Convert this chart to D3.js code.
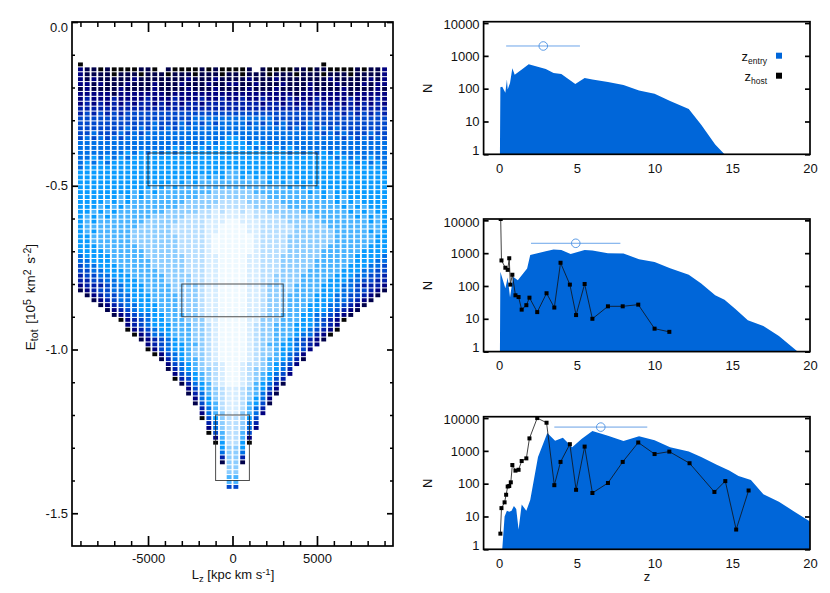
<!DOCTYPE html>
<html>
<head>
<meta charset="utf-8">
<script src="https://cdn.jsdelivr.net/npm/d3@7"></script>
<style>
html, body { margin: 0; padding: 0; background: #fff; }
svg { display: block; }
text { font-family: "Liberation Sans", Arial, sans-serif; font-size: 13px; fill: #111; }
</style>
</head>
<body>
<svg id="chart" width="830" height="593"></svg>
<script>
// --- heat map: one string per energy row, columns |Lz| bin 22 ... 0, mirrored about Lz = 0
var levelColors = ["#050505", "#00004a", "#000080", "#0020aa", "#0048cc", "#0070e6",
  "#0a9cff", "#4ab4ff", "#8ccdff", "#b8dfff", "#d6edff", "#eef9ff"];
var heatRows = [
  "00000000000000000000000",
  "21101000011011000010100",
  "21111011101110111011101",
  "21211111211111112111211",
  "22121112111211121112112",
  "12111121111211112111211",
  "22222122222221222222222",
  "23222322223222322232232",
  "23232323233232323323333",
  "33333333333333333333333",
  "34343434444444444444444",
  "44444444444444444555555",
  "44444444444544454545455",
  "44444445454545455555555",
  "44544454545555555555555",
  "45454545555555555555556",
  "55555555555555555556566",
  "55555555555555656565666",
  "55555556565656566666666",
  "55656565666666666666666",
  "56565666666666666666666",
  "56666666666666666666666",
  "66666666666666666666667",
  "66666666666666666676767",
  "66666666666666767677777",
  "66666666666767677777777",
  "66666666767677777777888",
  "66666676767777777788888",
  "66667676777777778888899",
  "66676767777777788888999",
  "66767677777778888899a9a",
  "67676777777888889999aaa",
  "6767777777888889999aaab",
  "6777777778888899999aabb",
  "6767777788888899999aabb",
  "6677777788888889999abbb",
  "6677777788888889999abbb",
  "6667777778888889999abbb",
  "6666777777888889999abbb",
  "5666677777888888999aabb",
  "5566677777788888999aabb",
  "4556667777788888999aabb",
  "4455666777778888999aabb",
  "3445566677777888899aabb",
  "3344556667777888899aabb",
  "2333455666777788889aabb",
  "1234455666777788889aabb",
  ".123445566677778889aabb",
  "..12345566677778889aabb",
  "...1234556667778889aabb",
  "....123456667778889aabb",
  ".....12345566777889aabb",
  "......0234566777888aabb",
  ".......2345666777889abb",
  ".......0234566777889abb",
  "........023556777889abb",
  ".........12345677889abb",
  "..........2345667789abb",
  "..........0245667889abb",
  "...........024567889abb",
  "............13567789abb",
  ".............24567899ab",
  ".............13567889ab",
  "..............2456789ab",
  "..............0346789ab",
  "...............135679ab",
  "................246789a",
  "................135789a",
  ".................25689a",
  ".................14679a",
  "..................3579a",
  "..................2578a",
  "..................04689",
  "...................3589",
  "...................2589",
  "...................0479",
  "....................279",
  "....................069",
  ".....................68",
  ".....................58",
  ".....................38",
  ".....................18",
  "......................8",
  "......................8",
  "......................7",
  "......................7",
  "......................4"
];
// first row of each column (index into heatRows), bins 22..0
var colTopLeft = [0,1,1,1,1,1,1,1,1,1,1,1,2,1,1,1,1,1,1,1,1,1,1];
var colTopRight = [1,1,1,1,1,1,1,1,1,0,1,1,1,1,1,1,1,1,1,2,1,1,1];
// last row of each column on the right side, bins 22..0
var colEndRight = [46,47,48,49,50,51,52,54,55,56,57,58,60,61,63,65,67,69,71,74,77,81,86];
var lzStep = 400, lzFirst = 200;
var eFirst = -0.1295, eStep = 0.015;

// selection boxes in (Lz, E)
var boxes = [[-5000, 5000, -0.4, -0.5], [-3000, 3000, -0.8, -0.9], [-1000, 1000, -1.2, -1.4]];

var lzMajor = [-5000, 0, 5000];
var lzMinor = [-9000, -8000, -7000, -6000, -4000, -3000, -2000, -1000, 1000, 2000, 3000, 4000, 6000, 7000, 8000, 9000];
var eMajor = [0, -0.5, -1, -1.5];
var eMinor = [-0.1, -0.2, -0.3, -0.4, -0.6, -0.7, -0.8, -0.9, -1.1, -1.2, -1.3, -1.4];

// --- redshift histograms
var nTicks = [1, 10, 100, 1000, 10000];
var zTicks = [0, 5, 10, 15, 20];

var entryZ1 = [0.05, 0.08, 0.2, 0.4, 0.5, 0.55, 0.7, 0.85, 1.0, 1.5, 1.9, 3, 3.5, 4, 4.9, 5.5, 6, 7, 8, 9, 10, 11, 12.2, 13, 13.9, 14.5];
var entryN1 = [1, 110, 115, 75, 190, 95, 150, 420, 265, 400, 560, 400, 300, 280, 140, 210, 190, 160, 130, 88, 70, 42, 24, 8, 2, 1];

var entryZ2 = [0.05, 0.08, 0.4, 0.55, 0.7, 0.9, 1.2, 1.8, 2, 3, 3.5, 4, 4.6, 5.5, 6, 7, 8, 9, 10, 11, 12.2, 13, 13.9, 14.5, 15.2, 16, 17, 18, 19.2];
var entryN2 = [1, 270, 85, 180, 45, 190, 150, 340, 880, 1150, 1300, 1250, 950, 1250, 1200, 1000, 980, 650, 540, 350, 220, 120, 52, 38, 20, 9, 6, 3, 1];
var hostZ2 = [0.1, 0.15, 0.4, 0.55, 0.65, 0.72, 0.85, 1.05, 1.25, 1.45, 1.75, 1.95, 2.45, 3.05, 3.55, 3.95, 4.55, 4.95, 5.5, 6, 7, 7.95, 8.95, 10, 10.95];
var hostN2 = [11000, 600, 360, 310, 700, 110, 220, 52, 46, 19, 26, 44, 16, 60, 22, 510, 110, 13, 115, 10, 24, 24, 27, 5, 4];

var entryZ3 = [0.2, 0.35, 0.5, 0.65, 0.8, 0.95, 1.1, 1.25, 1.45, 1.75, 2, 2.5, 3.1, 3.6, 4.1, 4.7, 5.3, 6, 7, 8, 9, 10, 11, 12.2, 13, 14, 14.8, 15.4, 16.2, 17, 18, 19, 20];
var entryN3 = [1, 10, 15, 14, 15, 21, 17, 4, 23, 15, 32, 650, 3500, 2050, 2500, 1300, 2300, 4000, 2900, 2000, 2800, 2100, 1300, 950, 650, 380, 250, 170, 130, 48, 28, 14, 7];
var hostZ3 = [0.08, 0.15, 0.35, 0.45, 0.55, 0.65, 0.75, 0.85, 1.05, 1.25, 1.45, 1.75, 1.95, 2.45, 3.05, 3.55, 3.95, 4.55, 4.95, 5.5, 6, 7, 7.95, 8.95, 10, 10.95, 12.25, 13.85, 14.55, 15.25, 16.05];
var hostN3 = [3, 18, 27, 46, 82, 85, 110, 370, 250, 265, 490, 590, 2400, 10000, 7200, 90, 460, 1600, 65, 1350, 52, 105, 460, 1800, 800, 950, 420, 56, 120, 4, 62];

// mean and spread of z_entry for each panel: [low, mean, high, N]
var spread1 = [0.45, 2.84, 5.2, 2000];
var spread2 = [2.05, 4.93, 7.8, 2000];
var spread3 = [3.55, 6.54, 9.53, 5300];

var svg = d3.select("#chart");

// --- left panel
var x = d3.scaleLinear().domain([-9500, 9500]).range([72, 393]);
var y = d3.scaleLinear().domain([0, -1.6]).range([22, 546]);
var color = d3.scaleLinear().domain(d3.range(levelColors.length)).range(levelColors);

var cells = [];
heatRows.forEach(function (row, r) {
  for (var c = 0; c < row.length; c++) {
    if (row[c] == ".") continue;
    var bin = 22 - c;
    var level = parseInt(row[c], 16);
    if (r >= colTopLeft[c]) cells.push({ lz: -(lzFirst + lzStep * bin), e: eFirst - eStep * r, level: level });
    if (r >= colTopRight[c] && r <= colEndRight[c]) cells.push({ lz: lzFirst + lzStep * bin, e: eFirst - eStep * r, level: level });
  }
});

var cellW = x(lzStep) - x(0) - 1.9;
var cellH = y(-eStep) - y(0) - 1;
svg.append("g").selectAll("rect").data(cells).join("rect")
  .attr("x", function (d) { return x(d.lz) - cellW / 2; })
  .attr("y", function (d) { return y(d.e) - cellH / 2; })
  .attr("width", cellW)
  .attr("height", cellH)
  .attr("fill", function (d) { return color(d.level); });

svg.append("g").selectAll("rect").data(boxes).join("rect")
  .attr("x", function (d) { return x(d[0]); })
  .attr("y", function (d) { return y(d[2]); })
  .attr("width", function (d) { return x(d[1]) - x(d[0]); })
  .attr("height", function (d) { return y(d[3]) - y(d[2]); })
  .attr("fill", "none")
  .attr("stroke", "#222")
  .attr("stroke-opacity", 0.8)
  .attr("stroke-width", 1);

function axisAt(axis, dx, dy, width, noText) {
  var g = svg.append("g").attr("transform", "translate(" + dx + "," + dy + ")").call(axis);
  g.selectAll(".domain").remove();
  g.selectAll("line").attr("stroke", "#000").attr("stroke-width", width);
  g.selectAll("text").style("font-size", "13px").attr("fill", "#111");
  if (noText) g.selectAll("text").remove();
  return g;
}

function frame(x0, x1, y0, y1, width) {
  svg.append("rect").attr("x", x0).attr("y", y0)
    .attr("width", x1 - x0).attr("height", y1 - y0)
    .attr("fill", "none").attr("stroke", "#000").attr("stroke-width", width);
}

var fmtE = function (d) { return d.toFixed(1); };

// labels only
axisAt(d3.axisBottom(x).tickValues(lzMajor).tickSize(0).tickPadding(8).tickFormat(String), 0, 546, 1);
var eLabels = axisAt(d3.axisLeft(y).tickValues(eMajor).tickSize(0).tickPadding(4).tickFormat(fmtE), 72, 0, 1);
eLabels.selectAll("text").attr("dy", function (d) { return d == 0 ? "0.75em" : "0.32em"; });
// inward ticks: each axis is placed so its ticks point into the plot
axisAt(d3.axisTop(x).tickValues(lzMajor).tickSize(10), 0, 546, 1.7, true);
axisAt(d3.axisTop(x).tickValues(lzMinor).tickSize(5), 0, 546, 1.5, true);
axisAt(d3.axisBottom(x).tickValues(lzMajor).tickSize(10), 0, 22, 1.7, true);
axisAt(d3.axisBottom(x).tickValues(lzMinor).tickSize(5), 0, 22, 1.5, true);
axisAt(d3.axisRight(y).tickValues(eMajor).tickSize(6), 72, 0, 1.7, true);
axisAt(d3.axisRight(y).tickValues(eMinor).tickSize(3), 72, 0, 1.5, true);
axisAt(d3.axisLeft(y).tickValues(eMajor).tickSize(6), 393, 0, 1.7, true);
axisAt(d3.axisLeft(y).tickValues(eMinor).tickSize(3), 393, 0, 1.5, true);
frame(72, 393, 22, 546, 1.7);

var lzLabel = svg.append("text").attr("x", 233).attr("y", 579).attr("text-anchor", "middle");
lzLabel.append("tspan").text("L");
lzLabel.append("tspan").attr("dy", 3).style("font-size", "9.5px").text("z");
lzLabel.append("tspan").attr("dy", -3).text(" [kpc km s");
lzLabel.append("tspan").attr("dy", -4).style("font-size", "9.5px").text("-1");
lzLabel.append("tspan").attr("dy", 4).text("]");

var eLabel = svg.append("text").attr("transform", "translate(35,297) rotate(-90)")
  .attr("text-anchor", "middle").style("word-spacing", "2px");
eLabel.append("tspan").style("font-size", "13.5px").text("E");
eLabel.append("tspan").attr("dy", 3).style("font-size", "10.5px").text("tot");
eLabel.append("tspan").attr("dy", -3).style("font-size", "13.5px").text(" [10");
eLabel.append("tspan").attr("dy", -4).style("font-size", "10.5px").text("5");
eLabel.append("tspan").attr("dy", 4).style("font-size", "13.5px").text(" km");
eLabel.append("tspan").attr("dy", -4).style("font-size", "10.5px").text("2");
eLabel.append("tspan").attr("dy", 4).style("font-size", "13.5px").text(" s");
eLabel.append("tspan").attr("dy", -4).style("font-size", "10.5px").text("-2");
eLabel.append("tspan").attr("dy", 4).style("font-size", "13.5px").text("]");

// --- right panels
var zScale = d3.scaleLinear().domain([-1, 20]).range([483.6, 810]);

function panel(idx, top, entryZ, entryN, hostZ, hostN, spread, spreadColor, spreadWidth) {
  var bottom = top + 132.6;
  var n = d3.scaleLog().domain([1, 11000]).range([bottom, top]);
  var clipId = "clip" + idx;
  svg.append("clipPath").attr("id", clipId).append("rect")
    .attr("x", zScale.range()[0]).attr("y", top)
    .attr("width", zScale.range()[1] - zScale.range()[0]).attr("height", bottom - top);

  var g = svg.append("g").attr("clip-path", "url(#" + clipId + ")");
  var entry = entryZ.map(function (d, i) { return [d, entryN[i]]; });
  var area = d3.area()
    .x(function (d) { return zScale(d[0]); })
    .y0(bottom)
    .y1(function (d) { return n(d[1]); });
  g.append("path").attr("d", area(entry)).attr("fill", "#0066d9");

  g.append("line")
    .attr("x1", zScale(spread[0])).attr("x2", zScale(spread[2]))
    .attr("y1", n(spread[3])).attr("y2", n(spread[3]))
    .attr("stroke", spreadColor).attr("stroke-width", spreadWidth);
  g.append("circle")
    .attr("cx", zScale(spread[1])).attr("cy", n(spread[3])).attr("r", 4.3)
    .attr("fill", "none").attr("stroke", "#4a90e2").attr("stroke-width", 0.9);

  if (hostZ) {
    var host = hostZ.map(function (d, i) { return [d, hostN[i]]; });
    var line = d3.line()
      .x(function (d) { return zScale(d[0]); })
      .y(function (d) { return n(d[1]); });
    g.append("path").attr("d", line(host)).attr("fill", "none").attr("stroke", "#111").attr("stroke-width", 0.8);
    g.selectAll(".host").data(host).join("rect").attr("class", "host")
      .attr("x", function (d) { return zScale(d[0]) - 2; })
      .attr("y", function (d) { return n(d[1]) - 2; })
      .attr("width", 4).attr("height", 4).attr("fill", "#000");
  }

  var labels = axisAt(d3.axisLeft(n).tickValues(nTicks).tickSize(0).tickPadding(4).tickFormat(d3.format("d")), zScale.range()[0], 0, 1);
  labels.selectAll("text").attr("dy", function (d) { return d == 1 ? "0em" : d == 10000 ? "0.45em" : "0.32em"; });
  axisAt(d3.axisRight(n).tickValues(nTicks).tickSize(5), zScale.range()[0], 0, 1.7, true);
  axisAt(d3.axisLeft(n).tickValues(nTicks).tickSize(5), zScale.range()[1], 0, 1.7, true);
  axisAt(d3.axisBottom(zScale).tickValues(zTicks).tickSize(0).tickPadding(9).tickFormat(d3.format("d")), 0, bottom, 1);
  frame(zScale.range()[0], zScale.range()[1], top, bottom, 1.7);

  svg.append("text").attr("transform", "translate(432," + (top + 66.5) + ") rotate(-90)")
    .attr("text-anchor", "middle").text("N");
}

panel(1, 21.7, entryZ1, entryN1, null, null, spread1, "#5b9be6", 0.9);
panel(2, 219, entryZ2, entryN2, hostZ2, hostN2, spread2, "#5b9be6", 0.9);
panel(3, 416.7, entryZ3, entryN3, hostZ3, hostN3, spread3, "#a9c9f0", 1.8);

svg.append("text").attr("x", 647).attr("y", 581).attr("text-anchor", "middle").text("z");

// legend
var legendEntry = svg.append("text").attr("x", 767).attr("y", 61).attr("text-anchor", "end");
legendEntry.append("tspan").text("z");
legendEntry.append("tspan").attr("dy", 3).style("font-size", "8.5px").text("entry");
var legendHost = svg.append("text").attr("x", 767).attr("y", 81).attr("text-anchor", "end");
legendHost.append("tspan").text("z");
legendHost.append("tspan").attr("dy", 3).style("font-size", "8.5px").text("host");
svg.append("rect").attr("x", 776).attr("y", 52.7).attr("width", 6).attr("height", 6).attr("fill", "#0066d9");
svg.append("rect").attr("x", 776).attr("y", 72.7).attr("width", 6).attr("height", 6).attr("fill", "#000");
</script>
</body>
</html>
